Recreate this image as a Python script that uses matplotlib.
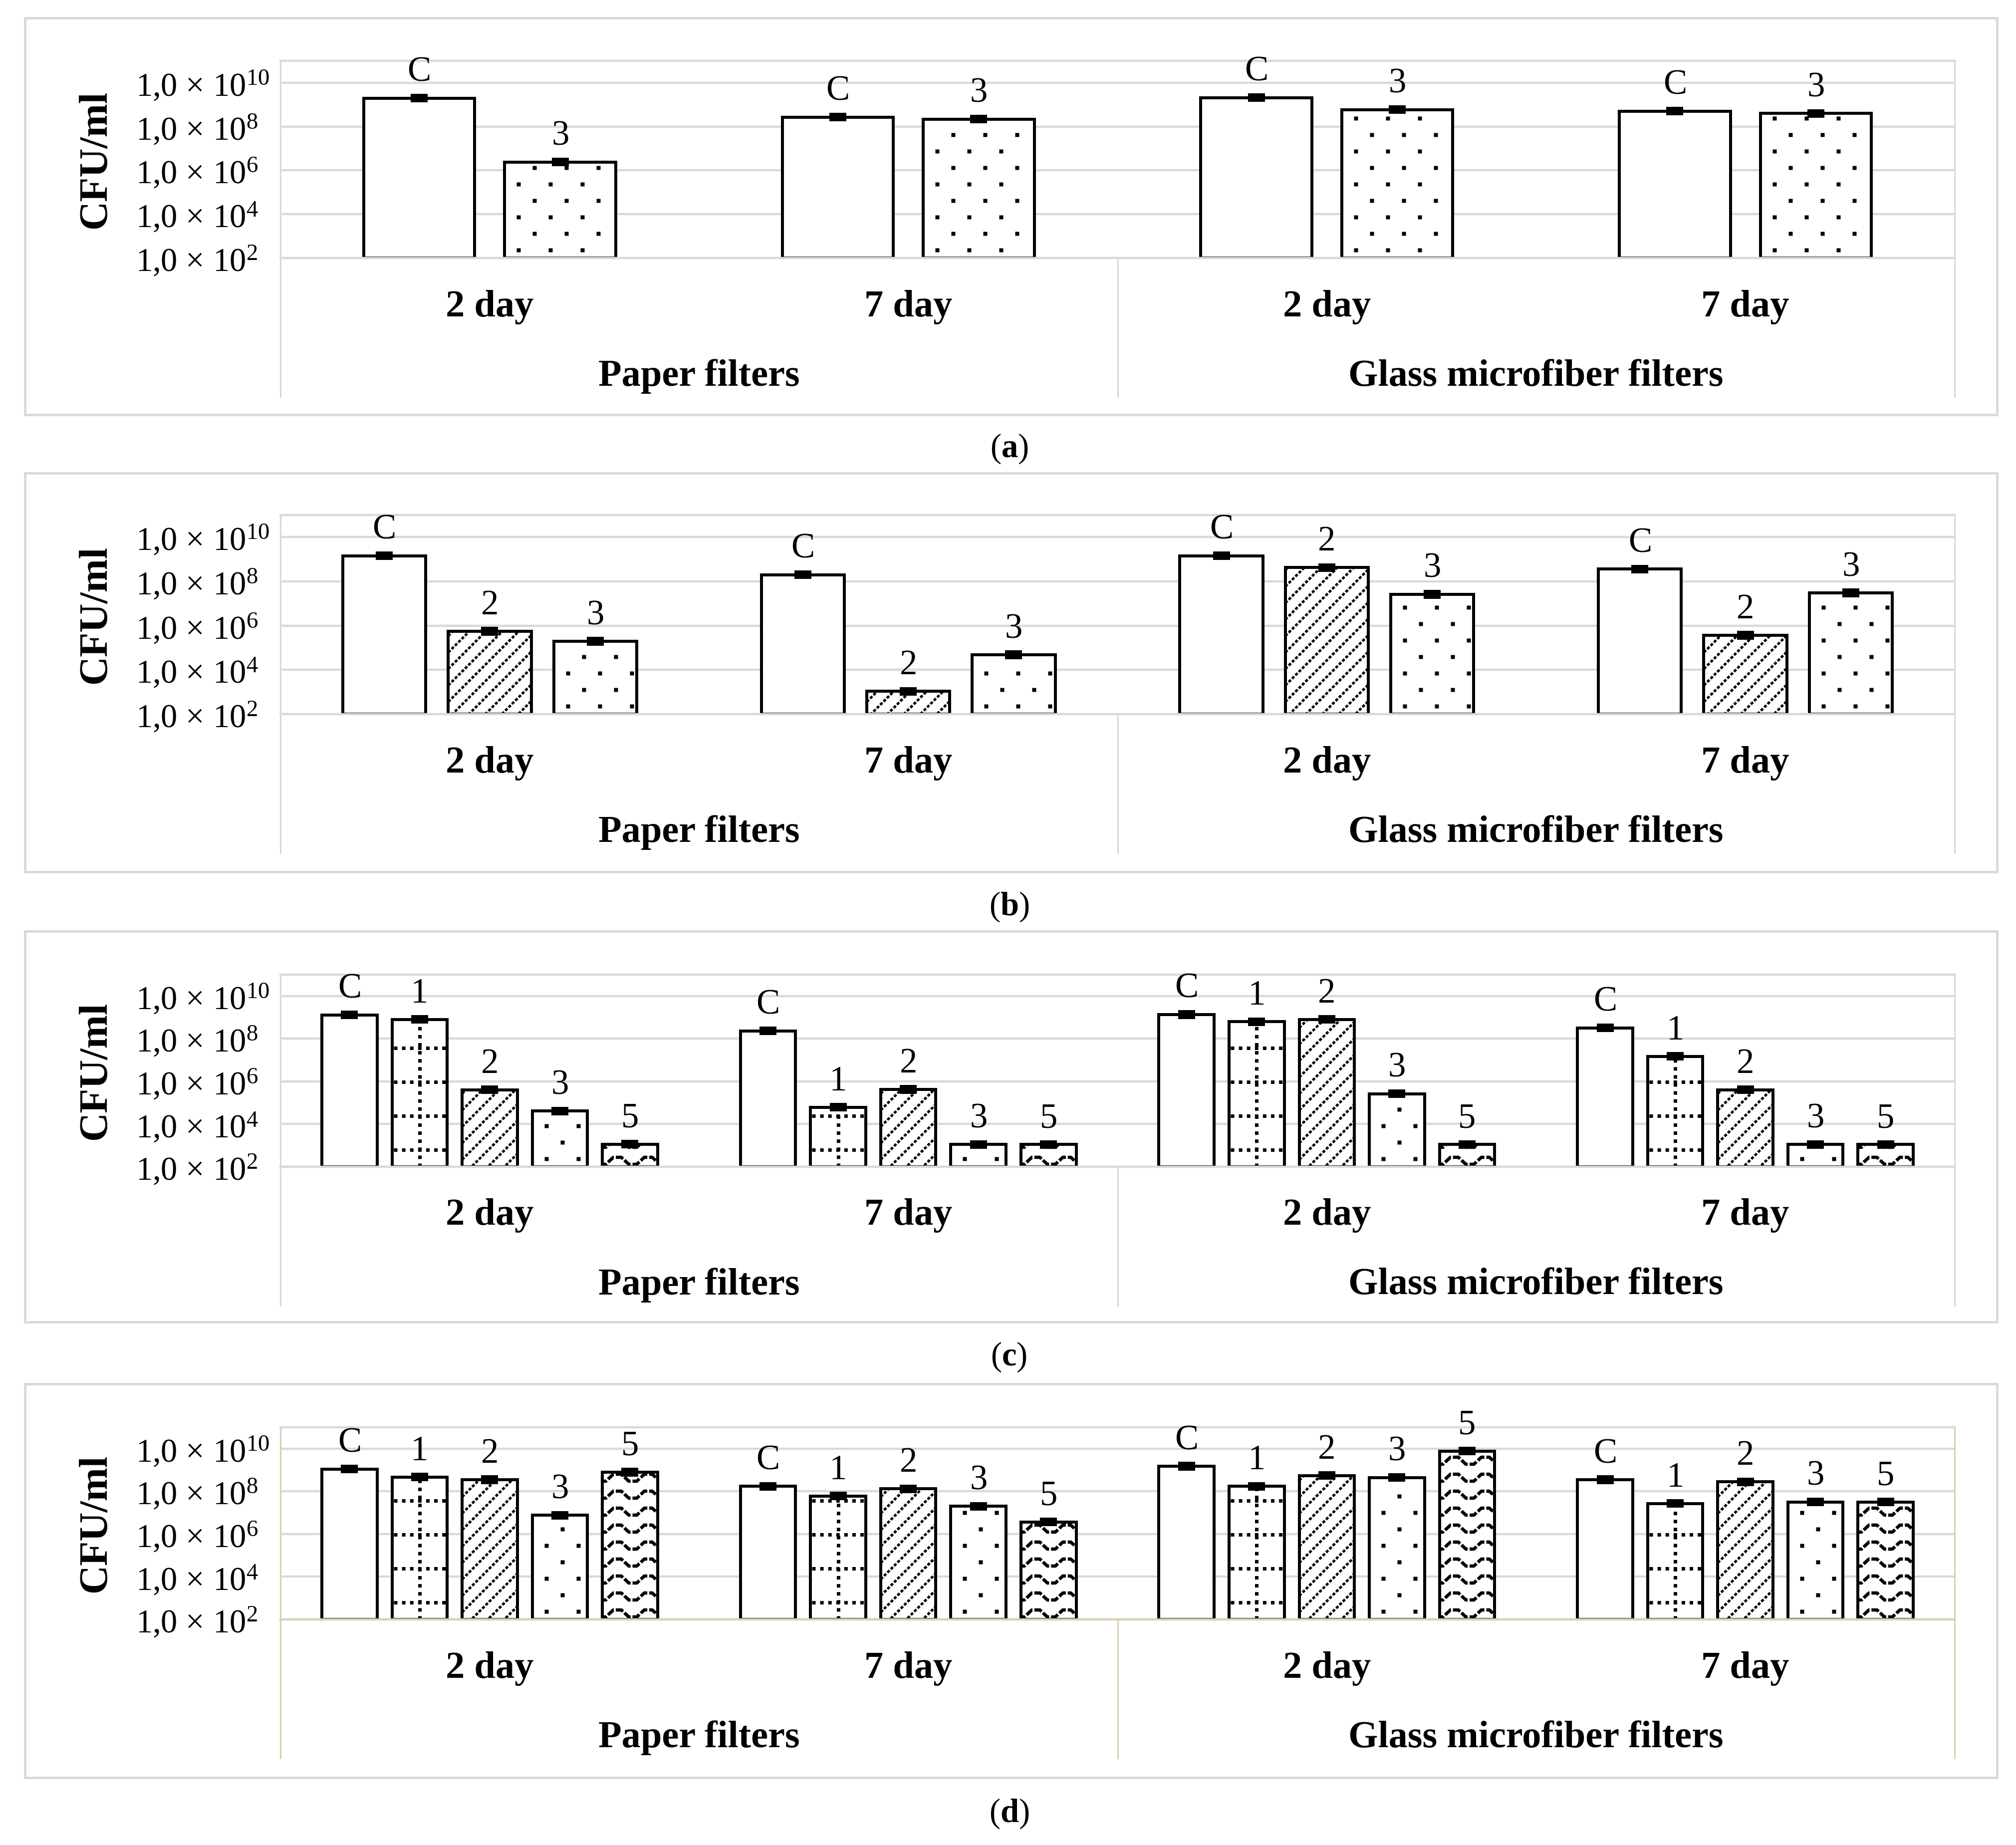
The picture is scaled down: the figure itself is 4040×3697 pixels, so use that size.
import numpy as np
import matplotlib
matplotlib.use("Agg")
import matplotlib.pyplot as plt
from matplotlib.patches import Rectangle
from matplotlib.lines import Line2D
from matplotlib.collections import LineCollection
from matplotlib.transforms import IdentityTransform
from matplotlib.ticker import NullLocator

# ---- data (CFU/ml) ----
days = ["2 day", "7 day", "2 day", "7 day"]
filters = ["Paper filters", "Glass microfiber filters"]
panel_tags = ["a", "b", "c", "d"]
ytick_values = [1e2, 1e4, 1e6, 1e8, 1e10]
ytick_labels = ["1,0 × 10$^{2}$", "1,0 × 10$^{4}$", "1,0 × 10$^{6}$",
                "1,0 × 10$^{8}$", "1,0 × 10$^{10}$"]

a_series = ["C", "3"]
a_C = [2.0e9, 2.7e8, 2.1e9, 5.1e8]
a_3 = [2.4e6, 2.2e8, 6.0e8, 4.0e8]

b_series = ["C", "2", "3"]
b_C = [1.45e9, 2.0e8, 1.45e9, 3.6e8]
b_2 = [5.5e5, 1.07e3, 4.2e8, 3.7e5]
b_3 = [1.95e5, 4.8e4, 2.6e7, 3.0e7]

c_series = ["C", "1", "2", "3", "5"]
c_C = [1.3e9, 2.3e8, 1.35e9, 3.2e8]
c_1 = [8.0e8, 6.2e4, 6.3e8, 1.5e7]
c_2 = [4.0e5, 4.2e5, 8.0e8, 4.0e5]
c_3 = [4.1e4, 1.1e3, 2.6e5, 1.1e3]
c_5 = [1.15e3, 1.1e3, 1.1e3, 1.1e3]

d_series = ["C", "1", "2", "3", "5"]
d_C = [1.1e9, 1.7e8, 1.5e9, 3.5e8]
d_1 = [4.7e8, 6.0e7, 1.7e8, 2.7e7]
d_2 = [3.5e8, 1.3e8, 5.5e8, 2.8e8]
d_3 = [7.6e6, 2.0e7, 4.4e8, 3.2e7]
d_5 = [7.9e8, 3.7e6, 7.6e9, 3.2e7]

ERR = 1.35  # error bars are tiny (about +/-0.13 decade)

panels = [
    (a_series, [a_C, a_3]),
    (b_series, [b_C, b_2, b_3]),
    (c_series, [c_C, c_1, c_2, c_3, c_5]),
    (d_series, [d_C, d_1, d_2, d_3, d_5]),
]
fills = {"C": None, "1": "grid", "2": "diag", "3": "dots", "5": "wave"}

# ---- layout (pixels) ----
W, H, DPI = 4041, 3697, 100
PX = 72 / DPI
YMIN, YMAX = 1e2, 1e11
PLOT_L, PLOT_R = 562, 3917
BOX_L, BOX_R = 50, 4002
plot_top = [122, 1032, 1953, 2860]
plot_base = [517, 1431, 2338, 3245]
box_top = [36, 948, 1866, 2773]
box_bot = [831, 1747, 2649, 3562]
cap_y = [899, 1817, 2719, 3634]
GRID = "#d9d9d9"
TAN = "#d8d0b6"

plt.rcParams["font.family"] = "Liberation Serif"
plt.rcParams["mathtext.fontset"] = "custom"
plt.rcParams["mathtext.rm"] = "Liberation Serif"
plt.rcParams["mathtext.bf"] = "Liberation Serif:bold"
plt.rcParams["mathtext.it"] = "Liberation Serif:italic"

fig = plt.figure(figsize=(W / DPI, H / DPI), dpi=DPI)


def fx(p):
    return p / W


def fy(p):
    return 1 - p / H


def add_fill(ax, bar, kind):
    # draw the Excel-like pattern in pixel space, clipped to the bar
    bb = bar.get_window_extent()
    x0, x1, y0, y1 = bb.x0, bb.x1, bb.y0, bb.y1
    arts = []
    if kind == "grid":
        xc = (x0 + x1) / 2
        segs = [[(xc, y0), (xc, y1)]]
        yy = y0 + 34
        while yy < y1:
            segs.append([(x0 + 3, yy), (x1, yy)])
            yy += 68
        lc = LineCollection(segs, colors="black", linewidths=7 * PX,
                            linestyles=[(0, (1.0, 1.3))])
        lc.set_capstyle("butt")
        arts.append(lc)
    elif kind == "diag":
        segs = []
        c = -(x1 - x0) - 40
        while c < (y1 - y0) + 40:
            segs.append([(x0 - 20, y0 + c - 20), (x1 + 20, y0 + c + (x1 - x0) + 20)])
            c += 33
        lc = LineCollection(segs, colors="black", linewidths=5 * PX,
                            linestyles=[(0, (1.2, 0.7))])
        lc.set_capstyle("butt")
        arts.append(lc)
    elif kind == "dots":
        xs, ys = [], []
        k = 0
        yy = y0 + 16
        while yy < y1 - 6:
            xx = x0 + 28 + (k % 2) * 32
            while xx < x1 - 5:
                xs.append(xx)
                ys.append(yy)
                xx += 64
            yy += 33
            k += 1
        arts.append(Line2D(xs, ys, ls="none", marker="s", ms=8 * PX,
                           mfc="black", mec="none"))
    elif kind == "wave":
        segs = []
        yy = y0 + 12
        while yy < y1 + 10:
            pts = []
            xs = x0 - 40
            while xs < x1 + 62:
                pts += [(xs, yy + 7), (xs + 16, yy + 7), (xs + 31, yy - 7), (xs + 47, yy - 7)]
                xs += 62
            segs.append(pts)
            yy += 34
        lc = LineCollection(segs, colors="black", linewidths=6.5 * PX,
                            linestyles=[(0, (2.4, 0.6))])
        lc.set_capstyle("butt")
        arts.append(lc)
    for a in arts:
        a.set_transform(IdentityTransform())
        a.set_zorder(2.5)
        ax.add_artist(a)
        # clip after adding: add_artist would otherwise reset it to the axes patch
        a.set_clip_path(bar)


for i, (names, values) in enumerate(panels):
    top, base = plot_top[i], plot_base[i]
    ph = base - top
    line_col = TAN if i == 3 else GRID

    # outer frame
    fig.patches.append(Rectangle((fx(BOX_L), fy(box_bot[i])), (BOX_R - BOX_L) / W,
                                 (box_bot[i] - box_top[i]) / H, transform=fig.transFigure,
                                 fill=False, edgecolor=GRID, lw=3.5))

    ax = fig.add_axes([fx(PLOT_L), fy(base), (PLOT_R - PLOT_L) / W, ph / H])
    ax.set_yscale("log")
    ax.set_xlim(-0.5, 3.5)
    ax.set_ylim(YMIN, YMAX)

    n = len(names)
    w = 1 / (n + 0.27 * (n - 1) + 1.5)
    step = w * 1.27
    cats = np.arange(len(days))
    for j, (name, vals) in enumerate(zip(names, values)):
        vals = np.array(vals)
        xs = cats + (j - (n - 1) / 2) * step
        bars = ax.bar(xs, vals - YMIN, bottom=YMIN, width=w, color="white",
                      edgecolor="black", linewidth=4.3, zorder=2)
        ax.set_xlim(-0.5, 3.5)
        ax.set_ylim(YMIN, YMAX)
        if fills[name]:
            for b in bars:
                add_fill(ax, b, fills[name])
        ax.errorbar(xs, vals, yerr=[vals - vals / ERR, vals * ERR - vals], fmt="none",
                    ecolor="black", elinewidth=10 * PX, capsize=12, capthick=6 * PX,
                    zorder=4)
        for x, v in zip(xs, vals):
            ax.annotate(name, (x, v), xytext=(0, 34 * PX), textcoords="offset points",
                        ha="center", va="baseline", fontsize=51)

    # axes styling
    ax.set_yticks(ytick_values)
    ax.set_yticklabels(ytick_labels, fontsize=48, ha="left")
    ax.yaxis.set_minor_locator(NullLocator())
    ax.tick_params(axis="y", length=0, pad=290 * PX)
    ax.set_xticks([])
    ax.grid(axis="y", which="major", color=GRID, lw=3.2)
    ax.set_axisbelow(True)
    for s in ["left", "right", "bottom"]:
        ax.spines[s].set_visible(False)
    ax.spines["top"].set_color(GRID)
    ax.spines["top"].set_linewidth(3.2)
    ax.axhline(YMIN, color=line_col, lw=3.2, zorder=5, clip_on=False)

    # multi-level category axis
    low = -278 / ph
    xt = ax.get_xaxis_transform()
    ax.plot([-0.5, -0.5], [1, low], transform=xt, color=line_col, lw=2.2, clip_on=False)
    ax.plot([3.5, 3.5], [1, low], transform=xt, color=line_col, lw=2.2, clip_on=False)
    ax.plot([1.5, 1.5], [0, low], transform=xt, color=line_col, lw=2.2, clip_on=False)
    for x, d in zip(cats, days):
        ax.text(x, -98 / ph, d, transform=xt, ha="center", va="center",
                fontsize=55, fontweight="bold")
    for k, f in enumerate(filters):
        ax.text(0.5 + 2 * k, -237 / ph, f, transform=xt, ha="center", va="center",
                fontsize=55, fontweight="bold")

    fig.text(fx(192), fy((top + base) / 2), "CFU/ml", rotation=90, ha="center",
             va="center", fontsize=58, fontweight="bold")
    fig.text(fx(2022), fy(cap_y[i]), r"($\mathbf{" + panel_tags[i] + "}$)",
             ha="center", va="center", fontsize=48)

fig.savefig("out.png", dpi=DPI, facecolor="white")
